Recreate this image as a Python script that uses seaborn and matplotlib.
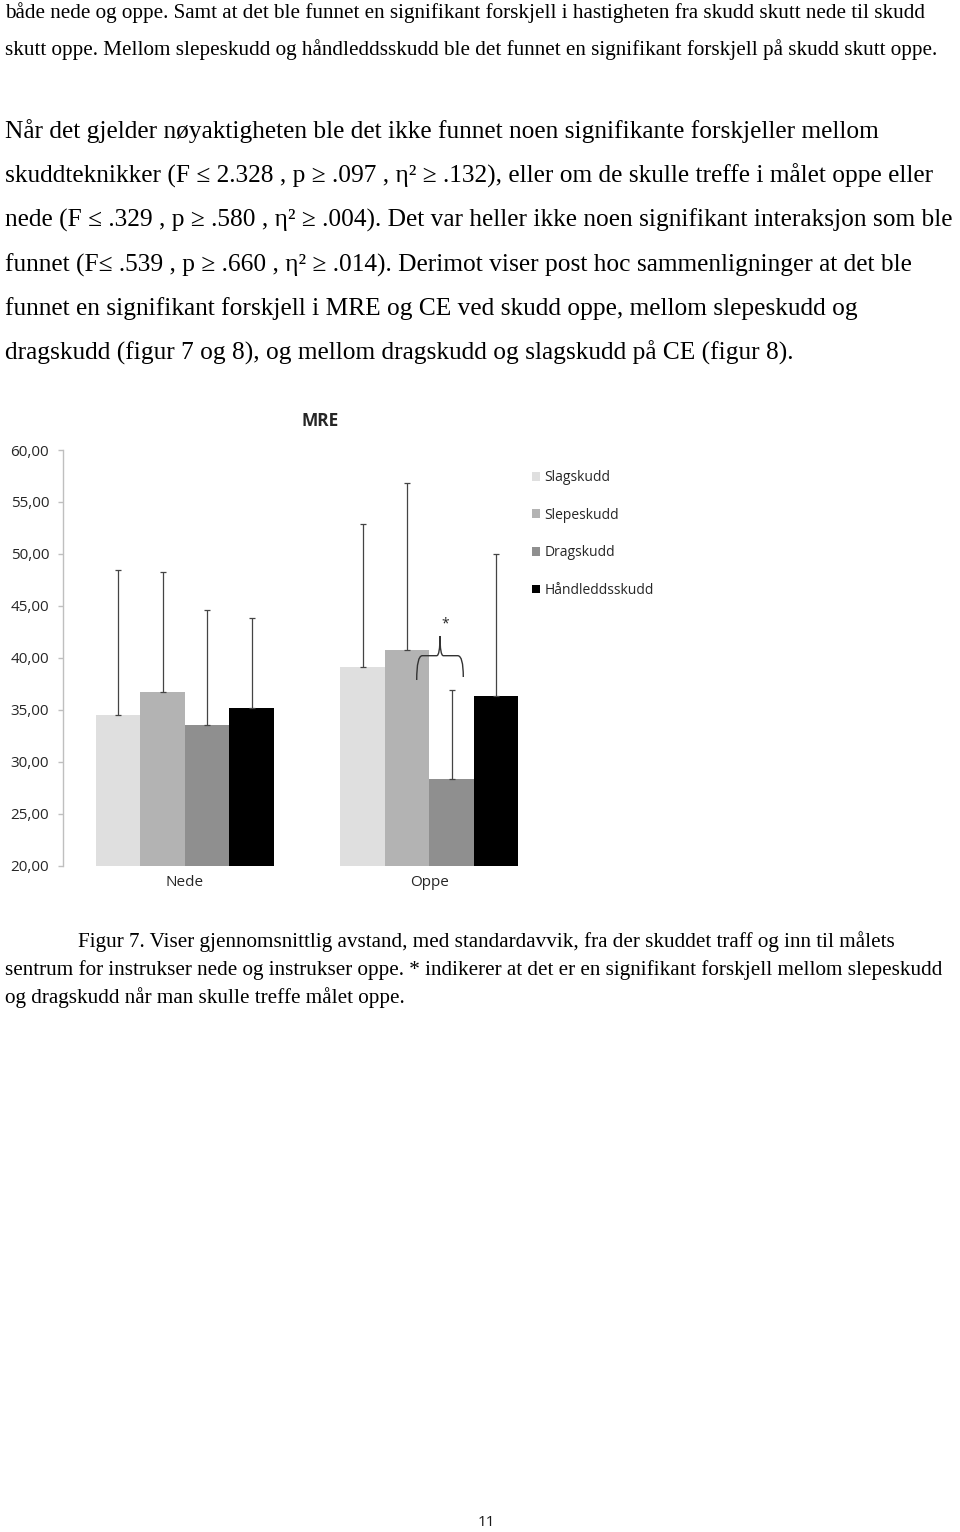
import numpy as np
import pandas as pd
import matplotlib
matplotlib.use("Agg")
import matplotlib.pyplot as plt
import seaborn as sns
from matplotlib.path import Path
from matplotlib.patches import PathPatch, Patch
from matplotlib.ticker import FixedLocator, FuncFormatter

# ---------------- data ----------------
positions = ["Nede", "Oppe"]
techniques = ["Slagskudd", "Slepeskudd", "Dragskudd", "Håndleddsskudd"]
mre_nede = [34.5, 36.7, 33.5, 35.2]
mre_oppe = [39.1, 40.8, 28.3, 36.3]
sd_nede = [14.0, 11.6, 11.1, 8.6]
sd_oppe = [13.8, 16.0, 8.6, 13.7]
y_ticks = [20, 25, 30, 35, 40, 45, 50, 55, 60]
bar_colors = ["#dfdfdf", "#b3b3b3", "#8f8f8f", "#000000"]

para1 = [
    "både nede og oppe. Samt at det ble funnet en signifikant forskjell i hastigheten fra skudd skutt nede til skudd",
    "skutt oppe. Mellom slepeskudd og håndleddsskudd ble det funnet en signifikant forskjell på skudd skutt oppe.",
]
para2 = [
    "Når det gjelder nøyaktigheten ble det ikke funnet noen signifikante forskjeller mellom",
    "skuddteknikker (F ≤ 2.328 , p ≥ .097 , η² ≥ .132), eller om de skulle treffe i målet oppe eller",
    "nede (F ≤ .329 , p ≥ .580 , η² ≥ .004). Det var heller ikke noen signifikant interaksjon som ble",
    "funnet (F≤ .539 , p ≥ .660 , η² ≥ .014). Derimot viser post hoc sammenligninger at det ble",
    "funnet en signifikant forskjell i MRE og CE ved skudd oppe, mellom slepeskudd og",
    "dragskudd (figur 7 og 8), og mellom dragskudd og slagskudd på CE (figur 8).",
]
caption = [
    "Figur 7. Viser gjennomsnittlig avstand, med standardavvik, fra der skuddet traff og inn til målets",
    "sentrum for instrukser nede og instrukser oppe. * indikerer at det er en signifikant forskjell mellom slepeskudd",
    "og dragskudd når man skulle treffe målet oppe.",
]
page_number = "11"

# ---------------- figure ----------------
sns.set_style("white")
plt.rcParams["font.family"] = ["Open Sans", "DejaVu Sans"]

W, H = 960, 1532
fig = plt.figure(figsize=(W / 100, H / 100), dpi=100)
fig.patch.set_facecolor("white")

def fx(px):
    return px / W

def fy(py):
    return 1 - py / H

ax_l, ax_r, ax_t, ax_b = 62.7, 551.7, 450.0, 865.7
ax = fig.add_axes([fx(ax_l), fy(ax_b), fx(ax_r - ax_l), (ax_b - ax_t) / H])

df = pd.DataFrame({
    "pos": np.repeat(positions, len(techniques)),
    "tech": techniques * len(positions),
    "mre": mre_nede + mre_oppe,
})
sns.barplot(data=df, x="pos", y="mre", hue="tech", hue_order=techniques,
            palette=bar_colors, width=0.728, gap=0, errorbar=None,
            saturation=1, linewidth=0, ax=ax, legend=False)

sds = [sd_nede, sd_oppe]
bar_containers = list(ax.containers)
for i, cont in enumerate(bar_containers):
    for j, bar in enumerate(cont.patches):
        xc = bar.get_x() + bar.get_width() / 2
        yv = bar.get_height()
        ax.errorbar([xc], [yv], yerr=[[0], [sds[j][i]]], fmt="none",
                    ecolor="#444444", elinewidth=0.9, capsize=2.2, capthick=0.9)

ax.set_ylim(20, 60)
ax.set_xlim(-0.5, 1.5)
ax.yaxis.set_major_locator(FixedLocator(y_ticks))
ax.yaxis.set_major_formatter(FuncFormatter(lambda v, p: f"{v:.2f}".replace(".", ",")))
ax.set_xlabel("")
ax.set_ylabel("")
sns.despine(ax=ax, top=True, right=True, bottom=True)
ax.spines["left"].set_color("#bfbfbf")
ax.spines["left"].set_linewidth(1.0)
ax.tick_params(axis="y", direction="out", length=3.3, width=1.0, color="#bfbfbf",
               pad=6.5, labelsize=11, labelcolor="#262626", left=True)
ax.tick_params(axis="x", length=0, pad=7, labelsize=11, labelcolor="#262626")

# significance brace between Slepeskudd and Dragskudd (Oppe)
def px2x(px):
    return (px - ax_l) / (ax_r - ax_l) * 2 - 0.5

def py2y(py):
    return 20 + (ax_b - py) / (ax_b - ax_t) * 40

x0, x1, xm = px2x(416.7), px2x(463.3), px2x(440)
yb0, yb1, yh, yp = py2y(680), py2y(677), py2y(655.7), py2y(636)
dx = (x1 - x0) * 0.12
verts = [
    (x0, yb0), (x0, yh), (x0 + dx, yh),
    (xm - dx * 0.6, yh),
    (xm, yh), (xm, yp),
    (xm, yh), (xm + dx * 0.6, yh),
    (x1 - dx, yh),
    (x1, yh), (x1, yb1),
]
codes = [Path.MOVETO, Path.CURVE3, Path.CURVE3,
         Path.LINETO,
         Path.CURVE3, Path.CURVE3,
         Path.CURVE3, Path.CURVE3,
         Path.LINETO,
         Path.CURVE3, Path.CURVE3]
ax.add_patch(PathPatch(Path(verts, codes), facecolor="none", edgecolor="#333333",
                       linewidth=1.0, clip_on=False))
ax.text(px2x(445), py2y(624), "*", ha="center", va="center", fontsize=10, color="#262626")

# title
fig.text(fx(320), fy(421), "MRE", ha="center", va="center", fontsize=12.5,
         fontweight="bold", color="#262626")

# legend
handles = [Patch(facecolor=c, edgecolor="none") for c in bar_colors]
fig.legend(handles, techniques, loc="upper left",
           bbox_to_anchor=(fx(532), fy(470)), bbox_transform=fig.transFigure,
           frameon=False, fontsize=10, handlelength=0.6, handleheight=0.6,
           handletextpad=0.3, labelspacing=1.63, borderpad=0, borderaxespad=0,
           labelcolor="#262626")

# ---------------- page text ----------------
serif = ["Liberation Serif", "DejaVu Serif"]
renderer = fig.canvas.get_renderer()

def fit_size(text, target_px, base=13.5):
    t = fig.text(0, 0, text, fontsize=base, family=serif)
    w = t.get_window_extent(renderer=renderer).width
    t.remove()
    return base * target_px / w

p1_fs = fit_size(para1[0], 922)
p2_fs = fit_size(para2[0], 878)
cap_fs = fit_size(caption[1], 937)

for txt, y in zip(para1, [13, 50]):
    fig.text(fx(5), fy(y), txt, ha="left", va="center", fontsize=p1_fs,
             family=serif, color="black")
for txt, y in zip(para2, [131, 176, 220, 265, 309, 353]):
    fig.text(fx(5), fy(y), txt, ha="left", va="center", fontsize=p2_fs,
             family=serif, color="black")
for txt, y, x in zip(caption, [942, 970, 998], [78, 5, 5]):
    fig.text(fx(x), fy(y), txt, ha="left", va="center", fontsize=cap_fs,
             family=serif, color="black")

fig.text(fx(486), fy(1522), page_number, ha="center", va="center", fontsize=11,
         color="#1a1a1a")

fig.savefig("out.png", dpi=100, facecolor="white")
